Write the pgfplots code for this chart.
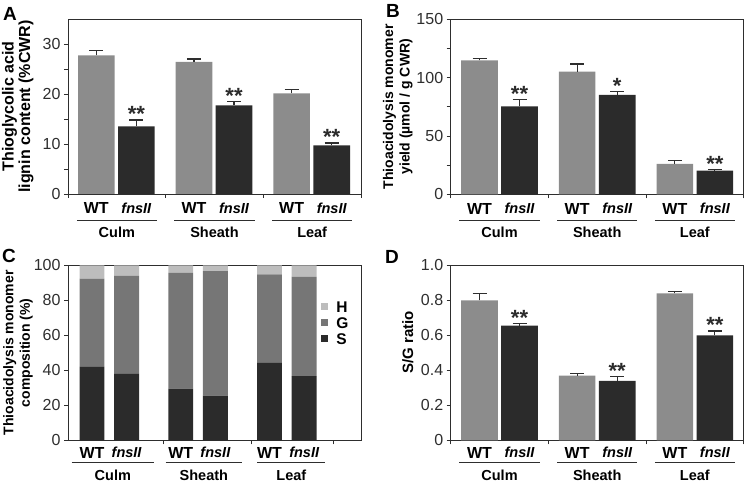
\documentclass[border=0pt]{standalone}
\usepackage{fontspec}
\setmainfont{Liberation Sans}
\usepackage{pgfplots}
\usepackage{pgfplotstable}
\pgfplotsset{compat=1.18}

\definecolor{wtgray}{HTML}{8C8C8C}
\definecolor{mutdark}{HTML}{2B2B2B}
\definecolor{hgray}{HTML}{BDBDBD}
\definecolor{ggray}{HTML}{767676}
\definecolor{axgray}{HTML}{2E2E2E}

\newcommand{\wtfont}{\fontsize{16}{18}\selectfont\bfseries}
\newcommand{\mutfont}{\fontsize{14.5}{18}\selectfont\bfseries\itshape}
\newcommand{\grpfont}{\fontsize{14.5}{18}\selectfont\bfseries}

% Panel A: thioglycolic acid lignin content
\pgfplotstableread{
wx wt wte mx mut mute sig
0.29 27.7 1.0 0.70 13.5 1.3 **
1.29 26.4 0.6 1.70 17.7 0.8 **
2.29 20.1 0.8 2.70 9.7 0.5 **
}\dataA
% Panel B: thioacidolysis monomer yield
\pgfplotstableread{
wx wt wte mx mut mute sig
0.295 114.8 1.7 0.705 75.3 5.7 **
1.295 105.1 6.5 1.705 85.2 2.9 *
2.295 26.1 3.2 2.705 20.2 0.8 **
}\dataB
% Panel C: monomer composition (S, G, H)
\pgfplotstableread{
x S G H
0.31 42.0 50.4 7.6
0.70 38.0 56.0 6.0
1.31 29.5 66.2 4.3
1.70 25.5 71.1 3.4
2.31 44.3 50.5 5.2
2.70 36.7 56.7 6.6
}\dataC
% Panel D: S/G ratio
\pgfplotstableread{
wx wt wte mx mut mute sig
0.295 0.80 0.040 0.705 0.655 0.012 **
1.295 0.37 0.010 1.705 0.340 0.025 **
2.295 0.84 0.012 2.705 0.600 0.025 **
}\dataD

\pgfplotsset{
 panel/.style={
  scale only axis, width=293pt, height=175pt, anchor=south west,
  axis line style={axgray, line width=0.9pt},
  every tick/.style={axgray, line width=0.9pt},
  major tick length=4pt, minor tick length=4pt,
  tick align=outside, tick pos=left,
  xmin=0, xmax=3, xtick={0,1,2,3}, xticklabels={},
  ymin=0, clip=false,
  /pgf/number format/assume math mode=true,
  tick label style={font=\fontsize{16}{18}\selectfont, text=axgray},
  ylabel style={align=center, anchor=center},
 },
 errs/.style={
  error bars/y dir=plus, error bars/y explicit, error bars/error mark=-,
  error bars/error bar style={axgray, line width=1.2pt},
  error bars/error mark options={rotate=90, axgray, line width=1.2pt, mark size=7pt},
 },
 wtbar/.style={ybar, bar shift=0pt, bar width=0.375, fill=wtgray, draw=none, errs},
 mutbar/.style={ybar, bar shift=0pt, bar width=0.375, fill=mutdark, draw=none, errs},
 sigplot/.style={draw=none, mark=none, nodes near coords, point meta=explicit symbolic,
  every node near coord/.append style={anchor=base, inner sep=0pt, yshift=-2pt,
   font=\fontsize{22}{22}\selectfont\bfseries, text=mutdark}},
}

% vertical offsets of the label rows below the axis
\def\offW{14.5pt}\def\offL{26pt}\def\offN{38.5pt}
% group labels: #1 WT x, #2 fnsII x, #3 line from, #4 line to, #5 name x, #6 name
\newcommand{\glab}[6]{%
  \node[font=\wtfont, text=black] at ([yshift=-\offW]axis cs:#1,0) {WT};
  \node[font=\mutfont, text=black] at ([yshift=-\offW]axis cs:#2,0) {fnsII};
  \draw[axgray, line width=0.8pt] ([yshift=-\offL]axis cs:#3,0) -- ([yshift=-\offL]axis cs:#4,0);
  \node[font=\grpfont, text=black] at ([yshift=-\offN]axis cs:#5,0) {#6};
}

\begin{document}
\begin{tikzpicture}
\useasboundingbox (0pt,0pt) rectangle (747pt,484pt);

% ---------- A ----------
\begin{axis}[panel, at={(68pt,290pt)}, ymax=35, ytick={0,10,20,30}, minor ytick={5,15,25},
  ylabel={Thioglycolic acid\\lignin content (\%CWR)},
  ylabel style={at={(axis description cs:-0.171,0.5)}, font=\fontsize{16}{16.5}\selectfont\bfseries}]
\addplot[wtbar] table[x=wx, y=wt, y error=wte]{\dataA};
\addplot[mutbar] table[x=mx, y=mut, y error=mute]{\dataA};
\addplot[sigplot] table[x=mx, y expr=\thisrow{mut}+\thisrow{mute}, meta=sig]{\dataA};
\glab{0.29}{0.70}{0.09}{0.91}{0.50}{Culm}
\glab{1.29}{1.70}{1.09}{1.91}{1.50}{Sheath}
\glab{2.29}{2.70}{2.09}{2.91}{2.50}{Leaf}
\end{axis}

% ---------- B ----------
\begin{axis}[panel, at={(450.7pt,289.7pt)}, ymax=150, ytick={0,50,100,150}, minor ytick={25,75,125},
  ylabel={Thioacidolysis monomer\\yield (µmol / g CWR)},
  ylabel style={at={(axis description cs:-0.181,0.5)}, font=\fontsize{14}{16.5}\selectfont\bfseries}]
\addplot[wtbar] table[x=wx, y=wt, y error=wte]{\dataB};
\addplot[mutbar] table[x=mx, y=mut, y error=mute]{\dataB};
\addplot[sigplot] table[x=mx, y expr=\thisrow{mut}+\thisrow{mute}, meta=sig]{\dataB};
\glab{0.295}{0.705}{0.09}{0.91}{0.50}{Culm}
\glab{1.295}{1.705}{1.09}{1.91}{1.50}{Sheath}
\glab{2.295}{2.705}{2.09}{2.91}{2.50}{Leaf}
\end{axis}

\gdef\offW{12.5pt}\gdef\offL{22.5pt}\gdef\offN{35.5pt}
% ---------- C ----------
\begin{axis}[panel, at={(68pt,43.7pt)}, xmin=0.04, xmax=3.34, xtick={1.11,2.11,3.03},
  ymax=100, ytick={0,20,40,60,80,100},
  ybar stacked, bar shift=0pt, bar width=0.28,
  ylabel={Thioacidolysis monomer\\composition (\%)},
  ylabel style={at={(axis description cs:-0.171,0.5)}, font=\fontsize{14}{16.5}\selectfont\bfseries},
  legend image code/.code={\fill[#1] (0pt,-3.5pt) rectangle (7pt,3.5pt);},
  legend style={at={(axis description cs:0.862,0.805)}, anchor=north west, draw=none, fill=none,
    font=\fontsize{15.5}{17}\selectfont\bfseries, inner sep=0pt, row sep=2pt,
    nodes={inner sep=1.5pt, text height=11pt, text depth=0pt},
    /tikz/every odd column/.append style={column sep=7pt}},
  legend cell align=left]
\addlegendimage{fill=hgray, draw=none}
\addlegendentry{H}
\addlegendimage{fill=ggray, draw=none}
\addlegendentry{G}
\addlegendimage{fill=mutdark, draw=none}
\addlegendentry{S}
\addplot[fill=mutdark, draw=none, forget plot] table[x=x, y=S]{\dataC};
\addplot[fill=ggray, draw=none, forget plot] table[x=x, y=G]{\dataC};
\addplot[fill=hgray, draw=none, forget plot] table[x=x, y=H]{\dataC};
\glab{0.31}{0.70}{0.08}{1.01}{0.545}{Culm}
\glab{1.31}{1.70}{1.14}{2.00}{1.57}{Sheath}
\glab{2.31}{2.70}{2.17}{2.94}{2.555}{Leaf}
\end{axis}

% ---------- D ----------
\begin{axis}[panel, at={(450.7pt,43.7pt)}, ymax=1, ytick={0,0.2,0.4,0.6,0.8,1.0},
  yticklabels={0,0.2,0.4,0.6,0.8,1.0},
  ylabel={S/G ratio},
  ylabel style={at={(axis description cs:-0.146,0.56)}, font=\fontsize{15}{16.5}\selectfont\bfseries}]
\addplot[wtbar] table[x=wx, y=wt, y error=wte]{\dataD};
\addplot[mutbar] table[x=mx, y=mut, y error=mute]{\dataD};
\addplot[sigplot] table[x=mx, y expr=\thisrow{mut}+\thisrow{mute}, meta=sig]{\dataD};
\glab{0.295}{0.705}{0.09}{0.91}{0.50}{Culm}
\glab{1.295}{1.705}{1.09}{1.91}{1.50}{Sheath}
\glab{2.295}{2.705}{2.09}{2.91}{2.50}{Leaf}
\end{axis}

\node[font=\fontsize{19}{19}\selectfont\bfseries] at (10pt,470pt) {A};
\node[font=\fontsize{19}{19}\selectfont\bfseries] at (393pt,473pt) {B};
\node[font=\fontsize{19}{19}\selectfont\bfseries] at (9pt,228.5pt) {C};
\node[font=\fontsize{19}{19}\selectfont\bfseries] at (392pt,227pt) {D};
\end{tikzpicture}
\end{document}
